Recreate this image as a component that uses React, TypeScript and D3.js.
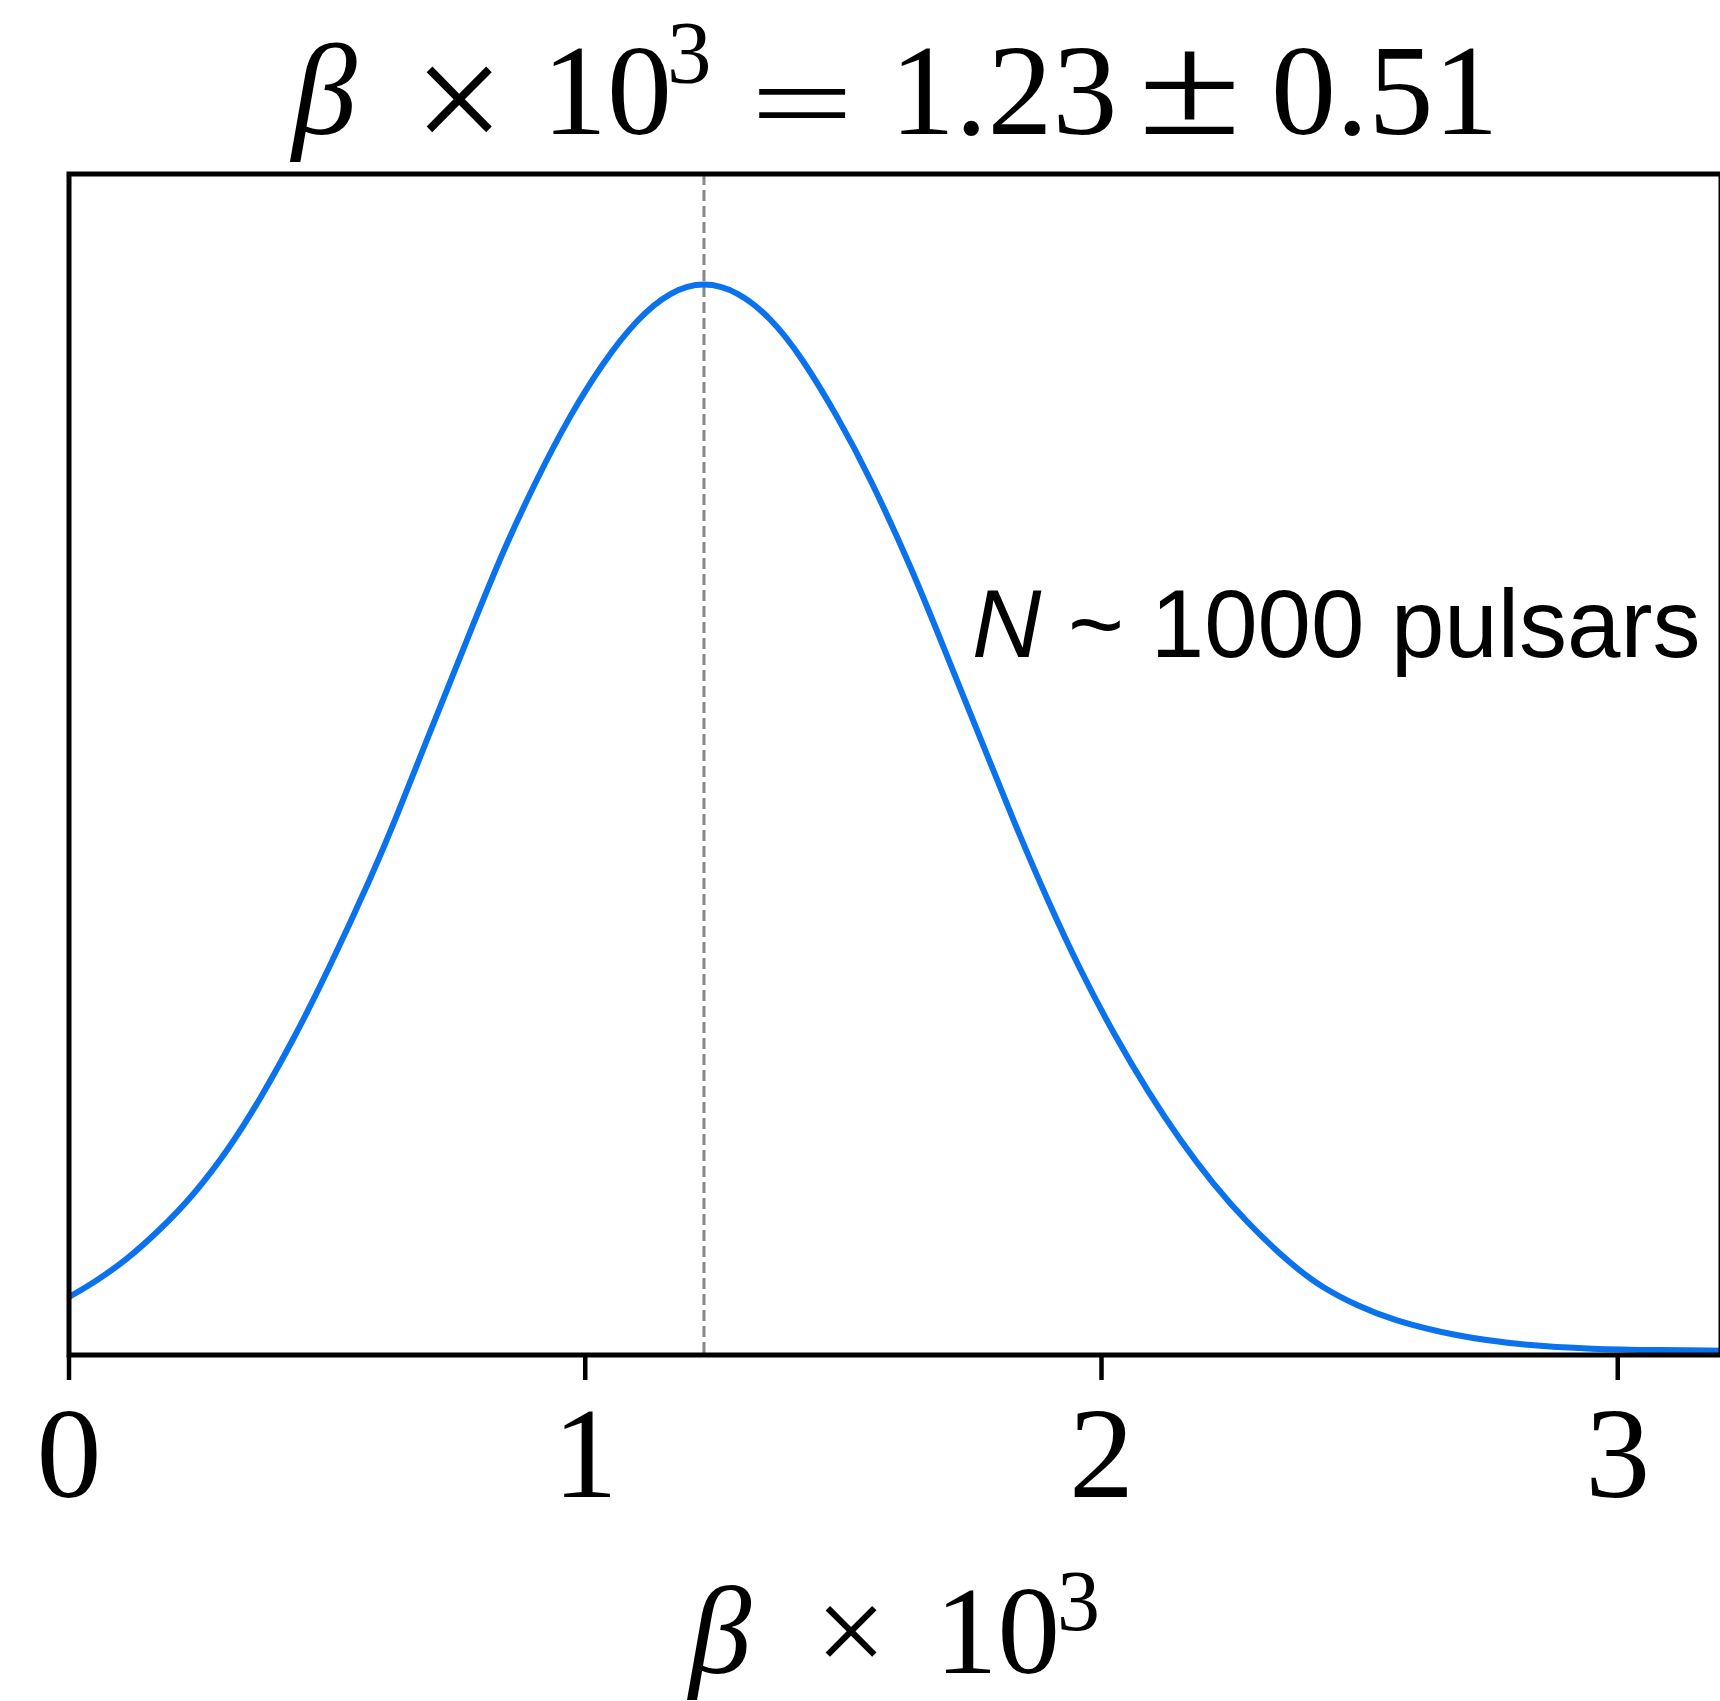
import React from "react";
import * as d3 from "d3";

// Posterior density of β×10³ (peak-normalised)
const betaValues = [
  0, 0.05, 0.11, 0.175, 0.24, 0.31, 0.37, 0.435, 0.5, 0.59, 0.63, 0.69, 0.79,
  0.84, 0.905, 0.97, 1.035, 1.1, 1.165, 1.23, 1.295, 1.36, 1.42, 1.49, 1.55,
  1.635, 1.7, 1.765, 1.83, 1.895, 1.96, 2.025, 2.09, 2.155, 2.215, 2.28, 2.37,
  2.43, 2.495, 2.56, 2.69, 2.82, 2.95, 3.08, 3.2,
];
const densityValues = [
  0.054, 0.068, 0.088, 0.116, 0.148, 0.192, 0.238, 0.294, 0.356, 0.45, 0.496,
  0.569, 0.689, 0.748, 0.815, 0.875, 0.925, 0.965, 0.991, 1.0, 0.991, 0.966,
  0.929, 0.873, 0.819, 0.73, 0.652, 0.575, 0.497, 0.424, 0.357, 0.298, 0.245,
  0.198, 0.16, 0.124, 0.083, 0.062, 0.046, 0.033, 0.017, 0.009, 0.0055, 0.0045,
  0.004,
];
const xTicks = [0, 1, 2, 3];
const meanBeta = 1.23;
const sigmaBeta = 0.51;
const annotation = "1000 pulsars";

const W = 1720;
const H = 1701;
const left = 69;
const right = 1721;
const top = 174;
const bottom = 1355;

const serif = "'Liberation Serif', 'Times New Roman', serif";
const sans = "'Liberation Sans', Arial, Helvetica, sans-serif";

export default function App() {
  const x = d3.scaleLinear().domain([0, 3.2]).range([left, right]);
  const y = d3.scaleLinear().domain([0, 1.1]).range([bottom, top]);
  const pts = betaValues.map((b, i) => [b, densityValues[i]] as [number, number]);
  const line = d3
    .line<[number, number]>()
    .x((d) => x(d[0]))
    .y((d) => y(d[1]))
    .curve(d3.curveBasis);

  const big = 130;
  const sup = 89;

  return (
    <svg
      width={W}
      height={H}
      style={{ position: "absolute", left: 0, top: 0, background: "#fff" }}
    >
      <defs>
        <clipPath id="plotArea">
          <rect x={left} y={top} width={right - left} height={bottom - top} />
        </clipPath>
      </defs>

      {/* title */}
      <g fontFamily={serif} fill="#000">
        <text x={292} y={134} fontSize={big} fontStyle="italic">β</text>
        <text x={459} y={153} fontSize={160} textAnchor="middle">×</text>
        <text x={542} y={134} fontSize={big}>10</text>
        <text x={667} y={82} fontSize={sup}>3</text>
        <text transform="translate(750,142) scale(1.42,0.9)" fontSize={big}>=</text>
        <text x={890} y={134} fontSize={big}>{meanBeta.toFixed(2)}</text>
        <text transform="translate(1138,134) scale(1.45,1.12)" fontSize={big}>±</text>
        <text x={1271} y={134} fontSize={big}>{sigmaBeta.toFixed(2)}</text>
      </g>

      {/* mean marker */}
      <line
        x1={x(meanBeta)}
        x2={x(meanBeta)}
        y1={top}
        y2={bottom}
        stroke="#888"
        strokeWidth={3}
        strokeDasharray="11 5"
      />

      {/* density curve */}
      <path
        d={line(pts) || ""}
        fill="none"
        stroke="#0a72ec"
        strokeWidth={6}
        clipPath="url(#plotArea)"
      />

      {/* annotation */}
      <text x={972} y={657} fontSize={96} fontFamily={sans} fill="#000">
        <tspan fontStyle="italic">N</tspan>
        <tspan> ~ {annotation}</tspan>
      </text>

      {/* frame */}
      <rect
        x={left}
        y={top}
        width={right - left}
        height={bottom - top}
        fill="none"
        stroke="#000"
        strokeWidth={5}
      />

      {/* x ticks */}
      {xTicks.map((t) => (
        <g key={t}>
          <line x1={x(t)} x2={x(t)} y1={bottom} y2={1380} stroke="#000" strokeWidth={4.5} />
          <text
            x={x(t)}
            y={1497}
            fontSize={big}
            fontFamily={serif}
            textAnchor="middle"
          >
            {t}
          </text>
        </g>
      ))}

      {/* x label */}
      <g fontFamily={serif} fill="#000">
        <text x={689} y={1673} fontSize={125} fontStyle="italic">β</text>
        <text x={851} y={1673} fontSize={125} textAnchor="middle">×</text>
        <text x={935} y={1673} fontSize={125}>10</text>
        <text x={1057} y={1630} fontSize={86}>3</text>
      </g>
    </svg>
  );
}
